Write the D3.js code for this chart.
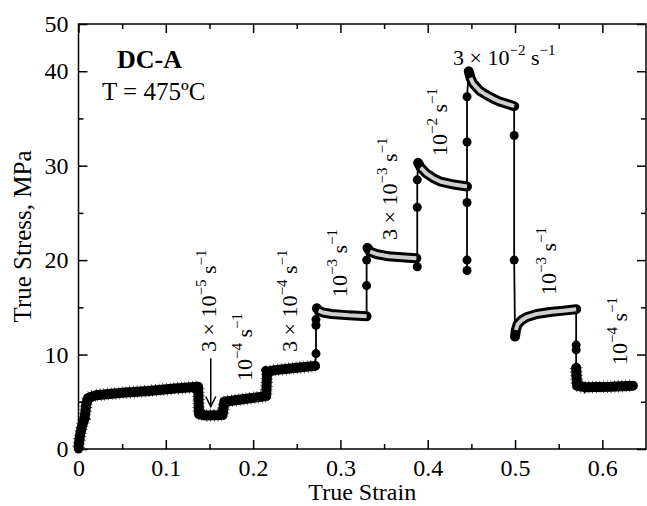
<!doctype html>
<html lang="en">
<head>
<meta charset="UTF-8">
<title>True stress vs true strain, DC-A</title>
<script src="https://d3js.org/d3.v7.min.js"></script>
<style>
  body { margin: 0; background: #fff; }
  text { font-family: "Liberation Serif", "Times New Roman", serif; fill: #000; }
</style>
</head>
<body>
<div id="chart-area"></div>

<script>

// ---- data (strain, stress MPa) ----

// slow-rate segments: drawn as a fat noisy black band
const slowBandA = [
  [0.000, 0.2], [0.002, 1.6], [0.004, 2.4], [0.007, 3.3], [0.009, 4.8], [0.011, 5.4],
  [0.020, 5.7], [0.050, 5.95], [0.080, 6.15], [0.110, 6.4], [0.137, 6.6],
  [0.138, 3.7], [0.145, 3.55], [0.165, 3.6],
  [0.167, 5.0], [0.190, 5.3], [0.215, 5.6],
  [0.216, 8.2], [0.225, 8.35], [0.250, 8.6], [0.271, 8.8]
];
const slowBandB = [
  [0.570, 8.6], [0.571, 6.7], [0.580, 6.55], [0.610, 6.6], [0.635, 6.7]
];

// faster segments: black band with light core
const rate1e3a = [[0.273, 14.9], [0.275, 14.65], [0.280, 14.45], [0.290, 14.3], [0.310, 14.15], [0.330, 14.05]];
const rate3e3  = [[0.331, 21.3], [0.334, 20.9], [0.341, 20.65], [0.355, 20.4], [0.370, 20.3], [0.387, 20.2]];
const rate1e2  = [[0.389, 30.3], [0.392, 29.8], [0.398, 29.2], [0.406, 28.7], [0.415, 28.3], [0.430, 28.0], [0.445, 27.8]];
const rate3e2  = [[0.447, 40.0], [0.449, 39.3], [0.452, 38.7], [0.460, 37.9], [0.467, 37.5], [0.475, 37.1], [0.482, 36.8], [0.499, 36.3]];
const rate1e3b = [[0.500, 11.9], [0.501, 12.6], [0.503, 13.2], [0.507, 13.6], [0.513, 13.95], [0.525, 14.3], [0.540, 14.5], [0.555, 14.65], [0.570, 14.8]];

// isolated points during the rate jumps
const jump1 = [[0.272, 10.1], [0.272, 13.1], [0.272, 13.7]];
const jump2 = [[0.330, 17.3], [0.330, 20.0]];
const jump3 = [[0.388, 19.3], [0.388, 25.6], [0.388, 28.5]];
const jump4 = [[0.445, 26.1], [0.445, 20.0], [0.445, 18.9], [0.445, 32.5], [0.445, 37.3]];
const jump5 = [[0.499, 33.2], [0.499, 20.0]];
const jump6 = [[0.570, 11.0], [0.570, 10.5], [0.570, 7.7]];

const xMajor = [0, 0.1, 0.2, 0.3, 0.4, 0.5, 0.6];
const xMinor = [0.05, 0.15, 0.25, 0.35, 0.45, 0.55];
const yMajor = [0, 10, 20, 30, 40, 45];
const yTickLabels = ['0', '10', '20', '30', '40', '50'];
const yMinor = [5, 15, 25, 35];

// rate labels: base + exponent, placed in pixels
const rateLabels = [
  { pre: '3 \u00d7 10', exp: '\u22125', x: 216, y: 352, rot: true },
  { pre: '10', exp: '\u22124', x: 252, y: 381, rot: true },
  { pre: '3 \u00d7 10', exp: '\u22124', x: 297, y: 352, rot: true },
  { pre: '10', exp: '\u22123', x: 347, y: 297, rot: true },
  { pre: '3 \u00d7 10', exp: '\u22123', x: 397, y: 240, rot: true },
  { pre: '10', exp: '\u22122', x: 447, y: 156, rot: true },
  { pre: '3 \u00d7 10', exp: '\u22122', x: 453, y: 65, rot: false },
  { pre: '10', exp: '\u22123', x: 556, y: 295, rot: true },
  { pre: '10', exp: '\u22124', x: 627, y: 365, rot: true }
];

// ---- layout ----
const W = 647, H = 506;
const pLeft = 78.5, pRight = 646, pTop = 24, pBottom = 449;

const svg = d3.select('#chart-area')
  .append('svg')
  .attr('width', W)
  .attr('height', H);

const x = d3.scaleLinear().domain([0, 0.65]).range([pLeft, pRight]);
const y = d3.scaleLinear().domain([0, 45]).range([pBottom, pTop]);

const line = d3.line().x(d => x(d[0])).y(d => y(d[1]));

// ---- axes ----
function styleAxis(g) {
  g.select('.domain').remove();
  g.selectAll('line').attr('stroke', '#000').attr('stroke-width', 1.5);
  g.selectAll('text').attr('font-size', '24px').attr('fill', '#000')
    .attr('font-family', '"Liberation Serif", "Times New Roman", serif');
}

svg.append('g').attr('transform', `translate(0,${pBottom})`)
  .call(d3.axisBottom(x).tickValues(xMajor).tickSize(-9).tickPadding(10).tickFormat(d3.format('')))
  .call(styleAxis);
svg.append('g').attr('transform', `translate(0,${pBottom})`)
  .call(d3.axisBottom(x).tickValues(xMinor).tickSize(-5).tickFormat(''))
  .call(styleAxis);
svg.append('g').attr('transform', `translate(0,${pTop})`)
  .call(d3.axisTop(x).tickValues(xMajor).tickSize(-9).tickFormat(''))
  .call(styleAxis);
svg.append('g').attr('transform', `translate(0,${pTop})`)
  .call(d3.axisTop(x).tickValues(xMinor).tickSize(-5).tickFormat(''))
  .call(styleAxis);

svg.append('g').attr('transform', `translate(${pLeft},0)`)
  .call(d3.axisLeft(y).tickValues(yMajor).tickSize(-9).tickPadding(10).tickFormat((d, i) => yTickLabels[i]))
  .call(styleAxis);
svg.append('g').attr('transform', `translate(${pLeft},0)`)
  .call(d3.axisLeft(y).tickValues(yMinor).tickSize(-5).tickFormat(''))
  .call(styleAxis);
svg.append('g').attr('transform', `translate(${pRight},0)`)
  .call(d3.axisRight(y).tickValues(yMajor).tickSize(-9).tickFormat(''))
  .call(styleAxis);
svg.append('g').attr('transform', `translate(${pRight},0)`)
  .call(d3.axisRight(y).tickValues(yMinor).tickSize(-5).tickFormat(''))
  .call(styleAxis);

svg.append('rect')
  .attr('x', pLeft).attr('y', pTop)
  .attr('width', pRight - pLeft).attr('height', pBottom - pTop)
  .attr('fill', 'none').attr('stroke', '#000').attr('stroke-width', 1.5);

// axis titles
svg.append('text')
  .attr('x', (pLeft + pRight) / 2).attr('y', 500)
  .attr('text-anchor', 'middle').attr('font-size', '24px')
  .text('True Strain');
svg.append('text')
  .attr('transform', `translate(31,${(pTop + pBottom) / 2}) rotate(-90)`)
  .attr('text-anchor', 'middle').attr('font-size', '25px')
  .text('True Stress, MPa');

// ---- data marks ----
const fullPath = [].concat(slowBandA, jump1, rate1e3a, jump2, rate3e3, jump3, rate1e2,
  jump4, rate3e2, jump5, rate1e3b, jump6, slowBandB);

svg.append('path').datum(fullPath)
  .attr('d', line).attr('fill', 'none')
  .attr('stroke', '#000').attr('stroke-width', 1.8);

[slowBandA, slowBandB].forEach(seg => {
  svg.append('path').datum(seg)
    .attr('d', line).attr('fill', 'none')
    .attr('stroke', '#000').attr('stroke-width', 10)
    .attr('stroke-linejoin', 'round').attr('stroke-linecap', 'round');
  // hairy edge
  svg.append('path').datum(seg)
    .attr('d', line).attr('fill', 'none')
    .attr('stroke', '#000').attr('stroke-width', 12.5)
    .attr('stroke-dasharray', '0.6 3.1')
    .attr('stroke-linejoin', 'round');
});

[rate1e3a, rate3e3, rate1e2, rate3e2, rate1e3b].forEach(seg => {
  svg.append('path').datum(seg)
    .attr('d', line).attr('fill', 'none')
    .attr('stroke', '#000').attr('stroke-width', 10)
    .attr('stroke-linejoin', 'round').attr('stroke-linecap', 'round');
  svg.append('path').datum(seg.slice(1))
    .attr('d', line).attr('fill', 'none')
    .attr('stroke', '#cfcfcf').attr('stroke-width', 4)
    .attr('stroke-linejoin', 'round');
});

const dots = [].concat([[0, 0]], jump1, jump2, jump3, jump4, jump5, jump6);
svg.append('g').selectAll('circle').data(dots).join('circle')
  .attr('cx', d => x(d[0])).attr('cy', d => y(d[1]))
  .attr('r', 4.5).attr('fill', '#000');

// arrow pointing at the 3e-5 step
const arrowStrain = 0.1515, arrowFrom = 9.6, arrowTo = 4.5;
svg.append('line')
  .attr('x1', x(arrowStrain)).attr('x2', x(arrowStrain))
  .attr('y1', y(arrowFrom)).attr('y2', y(arrowTo))
  .attr('stroke', '#000').attr('stroke-width', 1.5);
svg.append('path')
  .attr('d', `M${x(arrowStrain) - 5},${y(arrowTo) - 10} L${x(arrowStrain)},${y(arrowTo)} L${x(arrowStrain) + 5},${y(arrowTo) - 10}`)
  .attr('fill', 'none').attr('stroke', '#000').attr('stroke-width', 1.5);

// ---- text labels ----
rateLabels.forEach(l => {
  const t = svg.append('text')
    .attr('font-size', '22px')
    .attr('transform', l.rot ? `translate(${l.x},${l.y}) rotate(-90)` : `translate(${l.x},${l.y})`);
  t.append('tspan').text(l.pre);
  t.append('tspan').attr('font-size', '15px').attr('dy', -10).text(l.exp);
  t.append('tspan').attr('dy', 10).text(' s');
  t.append('tspan').attr('font-size', '15px').attr('dy', -10).text('\u22121');
});

svg.append('text')
  .attr('x', 149.5).attr('y', 68)
  .attr('text-anchor', 'middle').attr('font-size', '26px').attr('font-weight', 'bold')
  .text('DC-A');
svg.append('text')
  .attr('x', 102).attr('y', 100)
  .attr('font-size', '25px')
  .text('T = 475\u00baC');

</script>
</body>
</html>
